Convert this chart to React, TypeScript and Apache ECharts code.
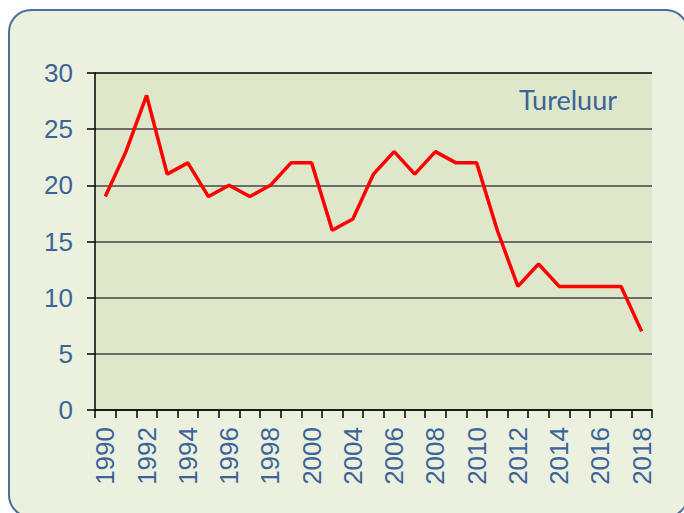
import React, { useEffect, useRef } from "react";
import * as echarts from "echarts";

const categories = [
  "1990", "1991", "1992", "1993", "1994", "1995", "1996", "1997", "1998", "1999", "2000",
  "2002", "2004", "2005", "2006", "2007", "2008", "2009", "2010", "2011", "2012",
  "2013", "2014", "2015", "2016", "2017", "2018",
];
const tureluur = [
  19, 23, 28, 21, 22, 19, 20, 19, 20, 22, 22,
  16, 17, 21, 23, 21, 23, 22, 22, 16, 11,
  13, 11, 11, 11, 11, 7,
];
const seriesName = "Tureluur";

const TEXT = "#3b6499";

export default function App() {
  const ref = useRef<HTMLDivElement>(null);
  useEffect(() => {
    if (!ref.current) return;
    const chart = echarts.init(ref.current, undefined, { renderer: "svg", width: 684, height: 513 });
    chart.setOption({
      animation: false,
      backgroundColor: "#ffffff",
      graphic: [
        {
          type: "rect",
          z: -10,
          shape: { x: 9, y: 10, width: 679, height: 507, r: 22 },
          style: { fill: "#ecf0df", stroke: "#4a6e9e", lineWidth: 2 },
          silent: true,
        },
        {
          type: "text",
          left: 519,
          top: 86,
          style: { text: seriesName, fill: TEXT, font: "27px Lato" },
          z: 10,
        },
      ],
      grid: {
        left: 95,
        top: 73,
        width: 557,
        height: 337,
        show: true,
        backgroundColor: "#dfe7ca",
        borderWidth: 0,
      },
      xAxis: {
        type: "category",
        data: categories,
        boundaryGap: true,
        axisLine: { show: true, lineStyle: { color: "#000", width: 1.5 } },
        axisTick: { show: true, interval: 0, length: 8, lineStyle: { color: "#000", width: 1.5 } },
        axisLabel: {
          interval: 1,
          rotate: 90,
          margin: 17,
          color: TEXT,
          fontFamily: "Liberation Sans",
          fontSize: 26,
        },
        splitLine: { show: false },
      },
      yAxis: {
        type: "value",
        min: 0,
        max: 30,
        interval: 5,
        axisLine: { show: true, lineStyle: { color: "#000", width: 1.5 } },
        axisTick: { show: true, length: 8, lineStyle: { color: "#000", width: 1.5 } },
        axisLabel: {
          margin: 22,
          color: TEXT,
          fontFamily: "Liberation Sans",
          fontSize: 26,
        },
        splitLine: {
          show: true,
          lineStyle: {
            color: ["#444", "#444", "#444", "#444", "#444", "#444", "#000000"],
            width: 1.5,
          },
        },
      },
      series: [
        {
          name: seriesName,
          type: "line",
          data: tureluur,
          symbol: "none",
          lineStyle: { color: "#ff0000", width: 3.5 },
          z: 5,
        },
      ],
    });
    return () => chart.dispose();
  }, []);
  return (
    <div
      ref={ref}
      style={{ position: "absolute", left: 0, top: 0, width: 684, height: 513 }}
    />
  );
}
